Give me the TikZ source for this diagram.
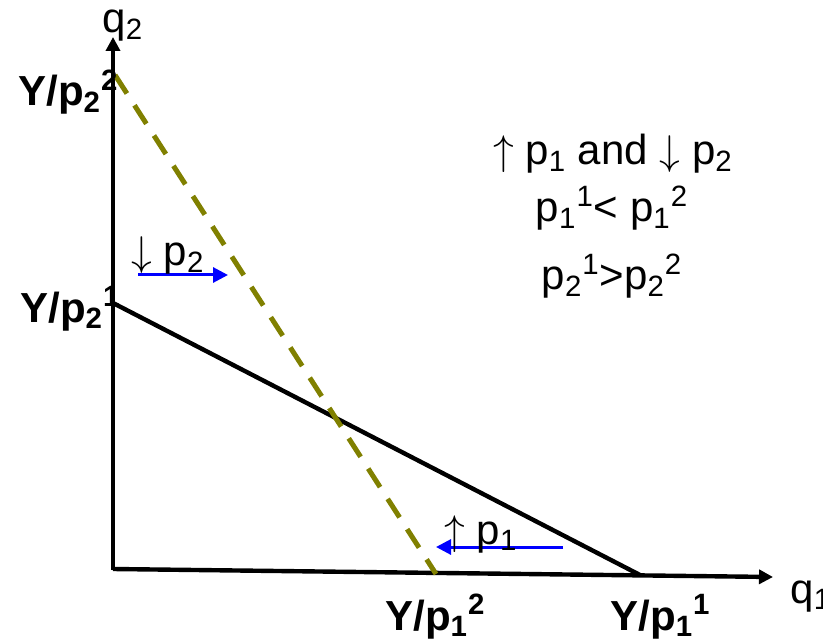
\documentclass[tikz,border=0pt]{standalone}
\usepackage{fontspec}
\setmainfont{Liberation Sans}
\usetikzlibrary{arrows.meta}
\definecolor{DashOlive}{HTML}{808000}
\definecolor{ShiftBlue}{HTML}{0000FF}
\newcommand{\price}[2]{p\textsubscript{#1}\textsuperscript{#2}}

\begin{document}
\begin{tikzpicture}[x=0.5pt,y=-0.5pt,>={Triangle[length=7pt,width=7pt]},
    axis/.style={line width=2.2pt,->},
    budget/.style={line width=2.2pt},
    newbudget/.style={line width=2.5pt,DashOlive,dash pattern=on 11pt off 7pt},
    pricearrow/.style={line width=1.5pt,ShiftBlue,-{Triangle[length=7.5pt,width=7.5pt]}},
    lbl/.style={font=\fontsize{21}{25}\selectfont\bfseries,inner sep=0pt},
    txt/.style={font=\fontsize{21}{25}\selectfont,inner sep=0pt}]
  \useasboundingbox (0,0) rectangle (823,641);

  % axes
  \coordinate (O) at (113,570);
  \coordinate (q2tip) at (113,37);
  \coordinate (q1tip) at (773,577);
  \draw[axis] (O) -- (q2tip);
  \draw[axis] (113,569) -- (q1tip);
  \node[txt,anchor=base west] (q2lbl) at (102,33) {q\textsubscript{2}};
  \node[txt,anchor=base west] (q1lbl) at (790,603) {q\textsubscript{1}};

  % intercepts
  \coordinate (int21) at (113,303);
  \coordinate (int11) at (640,575);
  \coordinate (int22) at (115,75);
  \coordinate (int12) at (436,574);

  % budget lines
  \draw[budget] (int21) -- (int11);
  \draw[newbudget] (int22) -- (int12);

  % intercept labels
  \node[lbl,anchor=base west] (y22) at (18,106) {Y/\price{2}{2}};
  \node[lbl,anchor=base west] (y21) at (20,322) {Y/\price{2}{1}};
  \node[lbl,anchor=base west] (y12) at (385,630) {Y/\price{1}{2}};
  \node[lbl,anchor=base west] (y11) at (610,630) {Y/\price{1}{1}};

  % price changes
  \coordinate (s2a) at (138,275);
  \coordinate (s2b) at (228,275);
  \draw[pricearrow] (s2a) -- (s2b);
  \node[txt,anchor=base west] (dp2) at (131,266) {$\downarrow$ p\textsubscript{2}};
  \coordinate (s1a) at (563,547);
  \coordinate (s1b) at (436,547);
  \draw[pricearrow] (s1a) -- (s1b);
  \node[txt,anchor=base west] (up1) at (444,544) {$\uparrow$ p\textsubscript{1}};

  % summary
  \node[txt,anchor=base] (sum1) at (613,165) {$\uparrow$ p\textsubscript{1} and $\downarrow$ p\textsubscript{2}};
  \node[txt,anchor=base] (sum2) at (612,222) {\price{1}{1}< \price{1}{2}};
  \node[txt,anchor=base] (sum3) at (612,290) {\price{2}{1}>\price{2}{2}};
\end{tikzpicture}
\end{document}
